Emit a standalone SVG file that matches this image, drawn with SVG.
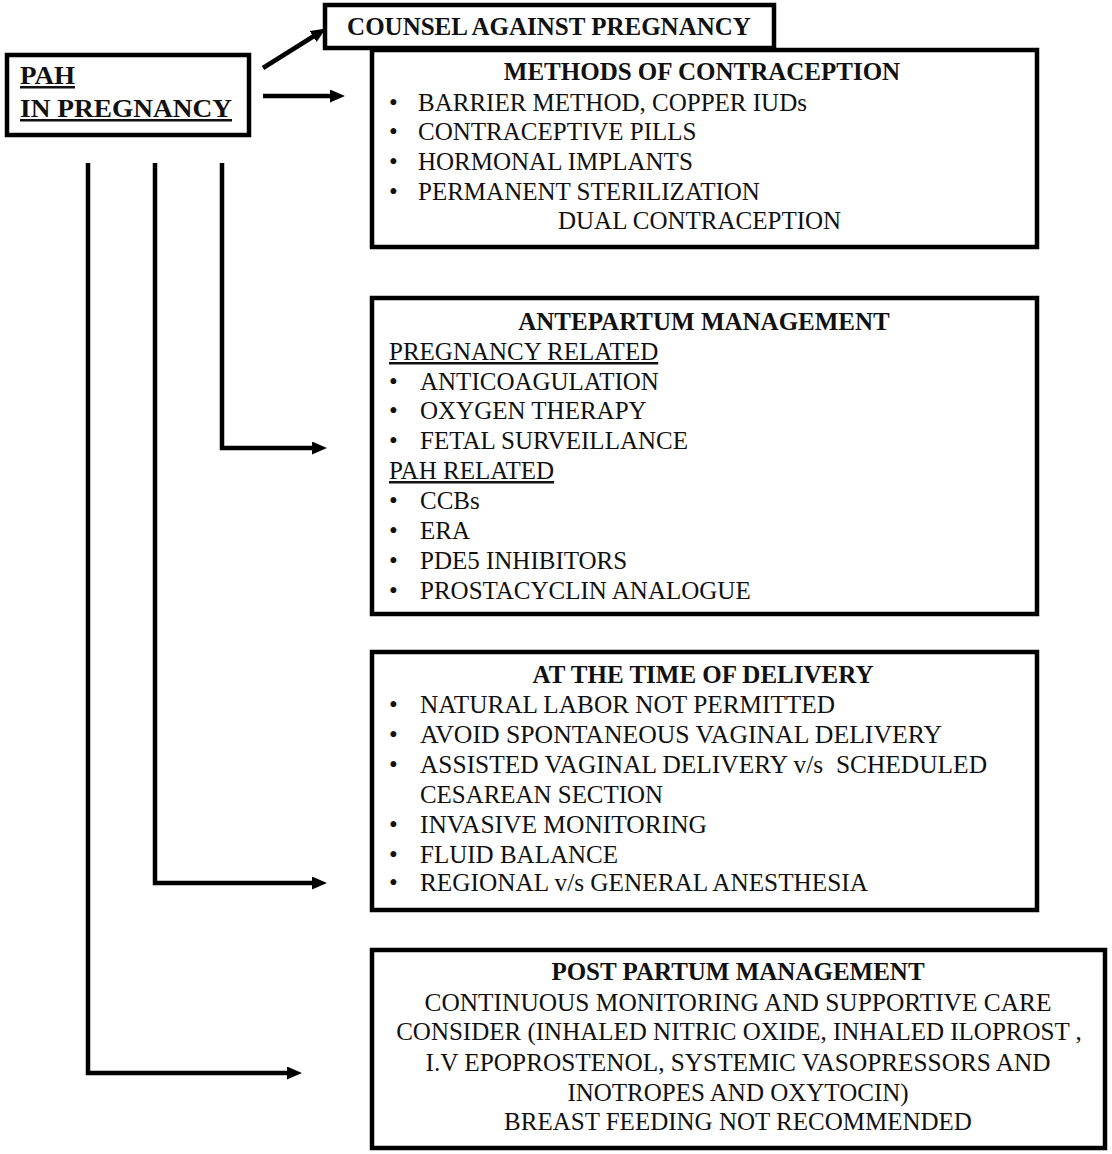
<svg xmlns="http://www.w3.org/2000/svg" width="1112" height="1154" viewBox="0 0 1112 1154">
<defs>
<marker id="ah" markerUnits="userSpaceOnUse" markerWidth="15" markerHeight="13" viewBox="0 0 15 13" refX="1" refY="6.5" orient="auto">
<path d="M0,0 L15,6.5 L0,13 z" fill="#000"/>
</marker>
<style>
.box{fill:#fff;stroke:#000;stroke-width:4.5}
.t{font-family:"Liberation Serif","Times New Roman",serif;font-size:25px;fill:#111}
.b{font-weight:bold}
.m{text-anchor:middle}
.u{text-decoration:underline}
.c{fill:none;stroke:#000;stroke-width:4.5;marker-end:url(#ah)}
</style>
</defs>
<rect width="1112" height="1154" fill="#fff"/>
<g id="connectors">
<path class="c" d="M263,68 L314,36"/>
<path class="c" d="M263,96 L331,96"/>
<path class="c" d="M222,163 V448 H313"/>
<path class="c" d="M155,163 V883 H313"/>
<path class="c" d="M88,163 V1073 H288"/>
</g>
<g id="pah">
<rect class="box" x="7" y="55" width="242" height="80"/>
<text class="t b u" x="20" y="84" textLength="55" lengthAdjust="spacingAndGlyphs">PAH</text>
<text class="t b u" x="20" y="117" textLength="212" lengthAdjust="spacingAndGlyphs">IN PREGNANCY</text>
</g>
<g id="counsel">
<rect class="box" x="325" y="5" width="449" height="43"/>
<text class="t b m" x="549" y="35">COUNSEL AGAINST PREGNANCY</text>
</g>
<g id="contraception">
<rect class="box" x="372" y="50" width="665" height="197"/>
<text class="t b m" x="702" y="80">METHODS OF CONTRACEPTION</text>
<text class="t" x="389" y="111">•</text><text class="t" x="418" y="111">BARRIER METHOD, COPPER IUDs</text>
<text class="t" x="389" y="140">•</text><text class="t" x="418" y="140">CONTRACEPTIVE PILLS</text>
<text class="t" x="389" y="170">•</text><text class="t" x="418" y="170">HORMONAL IMPLANTS</text>
<text class="t" x="389" y="200">•</text><text class="t" x="418" y="200">PERMANENT STERILIZATION</text>
<text class="t" x="558" y="229">DUAL CONTRACEPTION</text>
</g>
<g id="antepartum">
<rect class="box" x="372" y="298" width="665" height="316"/>
<text class="t b m" x="704" y="330">ANTEPARTUM MANAGEMENT</text>
<text class="t u" x="389" y="360">PREGNANCY RELATED</text>
<text class="t" x="389" y="390">•</text><text class="t" x="420" y="390">ANTICOAGULATION</text>
<text class="t" x="389" y="419">•</text><text class="t" x="420" y="419">OXYGEN THERAPY</text>
<text class="t" x="389" y="449">•</text><text class="t" x="420" y="449">FETAL SURVEILLANCE</text>
<text class="t u" x="389" y="479">PAH RELATED</text>
<text class="t" x="389" y="509">•</text><text class="t" x="420" y="509">CCBs</text>
<text class="t" x="389" y="539">•</text><text class="t" x="420" y="539">ERA</text>
<text class="t" x="389" y="569">•</text><text class="t" x="420" y="569">PDE5 INHIBITORS</text>
<text class="t" x="389" y="599">•</text><text class="t" x="420" y="599">PROSTACYCLIN ANALOGUE</text>
</g>
<g id="delivery">
<rect class="box" x="372" y="652" width="665" height="258"/>
<text class="t b m" x="703" y="683">AT THE TIME OF DELIVERY</text>
<text class="t" x="389" y="713">•</text><text class="t" x="420" y="713" textLength="415" lengthAdjust="spacingAndGlyphs">NATURAL LABOR NOT PERMITTED</text>
<text class="t" x="389" y="743">•</text><text class="t" x="420" y="743" textLength="522" lengthAdjust="spacingAndGlyphs">AVOID SPONTANEOUS VAGINAL DELIVERY</text>
<text class="t" x="389" y="773">•</text><text class="t" x="420" y="773" xml:space="preserve" textLength="567" lengthAdjust="spacingAndGlyphs">ASSISTED VAGINAL DELIVERY v/s  SCHEDULED</text>
<text class="t" x="420" y="803" textLength="243" lengthAdjust="spacingAndGlyphs">CESAREAN SECTION</text>
<text class="t" x="389" y="833">•</text><text class="t" x="420" y="833" textLength="287" lengthAdjust="spacingAndGlyphs">INVASIVE MONITORING</text>
<text class="t" x="389" y="863">•</text><text class="t" x="420" y="863" textLength="198" lengthAdjust="spacingAndGlyphs">FLUID BALANCE</text>
<text class="t" x="389" y="891">•</text><text class="t" x="420" y="891" textLength="448" lengthAdjust="spacingAndGlyphs">REGIONAL v/s GENERAL ANESTHESIA</text>
</g>
<g id="postpartum">
<rect class="box" x="372" y="950" width="733" height="198"/>
<text class="t b m" x="738" y="980">POST PARTUM MANAGEMENT</text>
<text class="t m" x="738" y="1011" textLength="627" lengthAdjust="spacingAndGlyphs">CONTINUOUS MONITORING AND SUPPORTIVE CARE</text>
<text class="t m" x="739" y="1040">CONSIDER (INHALED NITRIC OXIDE, INHALED ILOPROST ,</text>
<text class="t m" x="738" y="1071" textLength="625" lengthAdjust="spacingAndGlyphs">I.V EPOPROSTENOL, SYSTEMIC VASOPRESSORS AND</text>
<text class="t m" x="738" y="1101">INOTROPES AND OXYTOCIN)</text>
<text class="t m" x="738" y="1130">BREAST FEEDING NOT RECOMMENDED</text>
</g>
</svg>
